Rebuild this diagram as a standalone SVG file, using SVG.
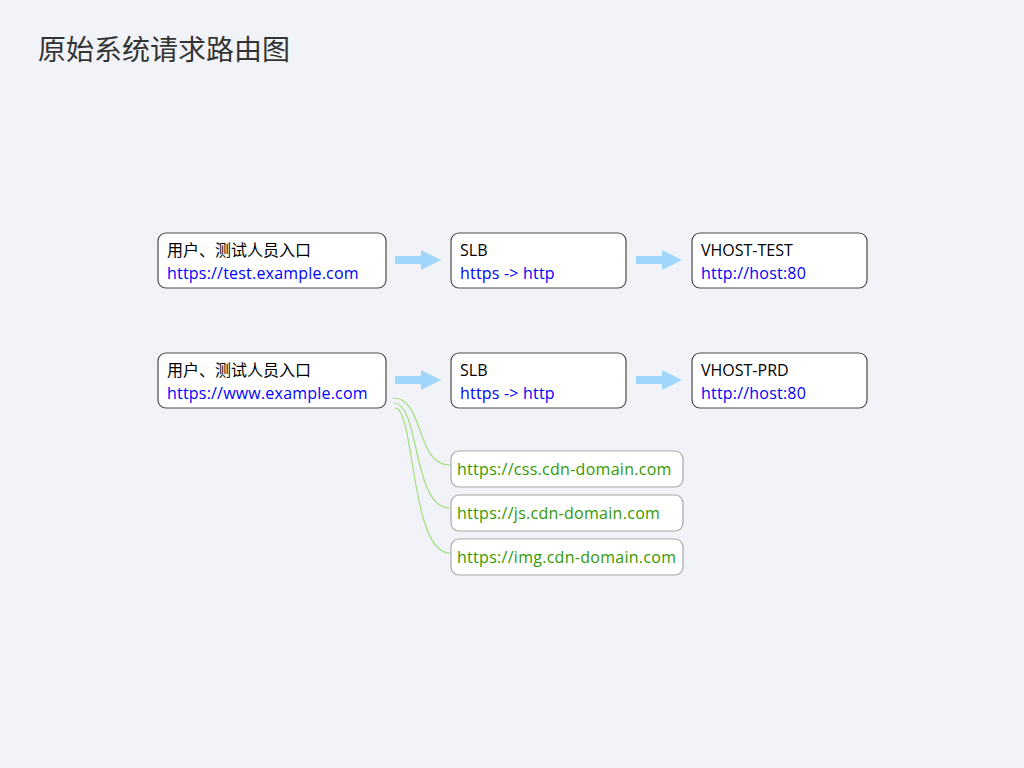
<svg xmlns="http://www.w3.org/2000/svg" width="1024" height="768" viewBox="0 0 1024 768">
<defs>
<style>
.bg{fill:#f2f3f8}
.node{fill:#fff;stroke:#4a4a4a;stroke-width:1.2}
.cdn{fill:#fff;stroke:#a8a8a8;stroke-width:1.2}
.t1{font-family:"Open Sans","Noto Sans CJK SC",sans-serif;font-size:16px;fill:#000}
.t2{font-family:"Open Sans","Noto Sans CJK SC",sans-serif;font-size:16px;fill:#0000ff;letter-spacing:0.2px}
.t3{font-family:"Open Sans","Noto Sans CJK SC",sans-serif;font-size:16px;fill:#339900;letter-spacing:0.28px}
.title{font-family:"Noto Sans CJK SC",sans-serif;font-size:28px;fill:#333}
.arrow{fill:#9fd6fa}
.curve{fill:none;stroke:#9fe07a;stroke-width:1.2}
</style>
<path id="arr" d="M0,-4 H26 V-10 L46,0 L26,10 V4 H0 Z"/>
</defs>
<rect class="bg" width="1024" height="768"/>
<text class="title" x="38" y="60">原始系统请求路由图</text>

<g id="connectors">
<use href="#arr" class="arrow" x="395" y="260"/>
<use href="#arr" class="arrow" x="636" y="260"/>
<use href="#arr" class="arrow" x="395" y="380"/>
<use href="#arr" class="arrow" x="636" y="380"/>
<path class="curve" d="M393,398 C425,398 415,465 450,465"/>
<path class="curve" d="M394,403 C420,403 412,508 450,508"/>
<path class="curve" d="M395,408 C415,408 410,553 450,553"/>
</g>

<g id="entry-test">
<rect class="node" x="158" y="233" width="228" height="55" rx="8"/>
<text class="t1" x="167" y="256">用户、测试人员入口</text>
<text class="t2" x="167" y="279">https://test.example.com</text>
</g>
<g id="slb-test">
<rect class="node" x="451" y="233" width="175" height="55" rx="8"/>
<text class="t1" x="460" y="256">SLB</text>
<text class="t2" x="460" y="279">https -&gt; http</text>
</g>
<g id="vhost-test">
<rect class="node" x="692" y="233" width="175" height="55" rx="8"/>
<text class="t1" x="701" y="256">VHOST-TEST</text>
<text class="t2" x="701" y="279">http://host:80</text>
</g>

<g id="entry-prd">
<rect class="node" x="158" y="353" width="228" height="55" rx="8"/>
<text class="t1" x="167" y="376">用户、测试人员入口</text>
<text class="t2" x="167" y="399">https://www.example.com</text>
</g>
<g id="slb-prd">
<rect class="node" x="451" y="353" width="175" height="55" rx="8"/>
<text class="t1" x="460" y="376">SLB</text>
<text class="t2" x="460" y="399">https -&gt; http</text>
</g>
<g id="vhost-prd">
<rect class="node" x="692" y="353" width="175" height="55" rx="8"/>
<text class="t1" x="701" y="376">VHOST-PRD</text>
<text class="t2" x="701" y="399">http://host:80</text>
</g>

<g id="cdn-css">
<rect class="cdn" x="451" y="451" width="232" height="36" rx="8"/>
<text class="t3" x="457" y="475">https://css.cdn-domain.com</text>
</g>
<g id="cdn-js">
<rect class="cdn" x="451" y="495" width="232" height="36" rx="8"/>
<text class="t3" x="457" y="519">https://js.cdn-domain.com</text>
</g>
<g id="cdn-img">
<rect class="cdn" x="451" y="539" width="232" height="36" rx="8"/>
<text class="t3" x="457" y="563">https://img.cdn-domain.com</text>
</g>
</svg>
